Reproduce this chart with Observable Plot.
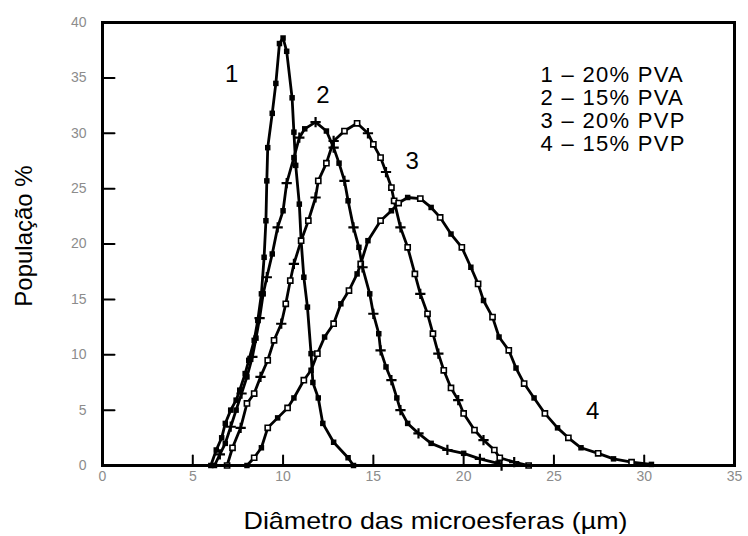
<!DOCTYPE html>
<html>
<head>
<meta charset="utf-8">
<script src="https://cdn.jsdelivr.net/npm/d3@7"></script>
<script src="https://cdn.jsdelivr.net/npm/@observablehq/plot@0.6"></script>
<style>
  body { margin: 0; background: #fff; }
  #chart svg { display: block; }
</style>
</head>
<body>
<div id="chart"></div>
<script>
// Size distributions of microspheres for four stabiliser formulations
const seriesNames = ["1", "2", "3", "4"];
const legendLabels = ["1 – 20% PVA", "2 – 15% PVA", "3 – 20% PVP", "4 – 15% PVP"];
const xTicks = [0, 5, 10, 15, 20, 25, 30, 35];
const yTicks = [0, 5, 10, 15, 20, 25, 30, 35, 40];
const xTitle = "Diâmetro das microesferas (µm)";
const yTitle = "População %";

// 1 – 20% PVA
const x1 = [6.0, 6.3, 6.6, 6.8, 7.1, 7.4, 7.6, 7.9, 8.1, 8.4, 8.6, 8.8, 8.95, 9.05, 9.1, 9.15, 9.4, 9.6, 9.8, 10.0, 10.2, 10.5, 10.6, 10.7, 10.9, 11.0, 11.15, 11.35, 11.55, 11.65, 11.95, 12.2, 12.8, 13.6, 13.9];
const y1 = [0, 1.4, 2.5, 3.8, 5.0, 5.9, 6.8, 8.3, 9.5, 11.3, 13.1, 15.5, 18.8, 22.1, 25.7, 28.7, 31.8, 34.5, 38.1, 38.6, 37.4, 33.2, 30.1, 27.1, 23.6, 20.3, 17.0, 14.3, 10.1, 7.5, 6.1, 3.8, 2.1, 0.7, 0];

// 2 – 15% PVA
const x2 = [6.2, 6.5, 6.8, 7.1, 7.4, 7.7, 8.0, 8.3, 8.5, 8.7, 8.9, 9.1, 9.4, 9.7, 10.0, 10.2, 10.6, 10.9, 11.2, 11.8, 12.4, 12.8, 13.1, 13.4, 13.6, 13.9, 14.2, 14.4, 14.8, 15.0, 15.3, 15.4, 15.7, 16.0, 16.3, 16.5, 16.9, 17.5, 18.2, 19.1, 20.0, 20.9, 21.9, 22.1];
const y2 = [0, 1.0, 2.0, 3.5, 5.0, 6.5, 8.0, 9.8, 11.5, 13.3, 15.5, 17.0, 19.1, 21.5, 23.0, 25.5, 27.8, 29.6, 30.4, 31.0, 30.2, 28.7, 27.3, 25.7, 23.9, 21.5, 19.7, 17.9, 15.5, 13.7, 11.9, 10.4, 8.9, 7.7, 6.1, 5.0, 3.8, 2.9, 2.0, 1.4, 1.1, 0.6, 0.2, 0];

// 3 – 20% PVP
const x3 = [6.9, 7.2, 7.65, 8.0, 8.4, 8.75, 9.15, 9.5, 9.9, 10.15, 10.4, 10.6, 11.0, 11.4, 11.8, 11.95, 12.4, 12.8, 13.4, 14.1, 14.7, 15.0, 15.4, 15.7, 16.0, 16.15, 16.5, 16.9, 17.3, 17.6, 18.0, 18.3, 18.6, 18.9, 19.3, 19.7, 20.0, 20.6, 21.1, 21.7, 22.0, 22.8, 23.6];
const y3 = [0, 1.6, 3.4, 5.6, 6.5, 8.0, 9.5, 11.3, 12.8, 14.6, 16.7, 18.2, 20.3, 22.1, 24.2, 25.7, 27.3, 29.3, 30.2, 30.9, 30.0, 29.0, 27.8, 26.5, 25.1, 23.9, 21.5, 19.7, 17.3, 15.5, 13.7, 11.9, 10.1, 8.6, 7.0, 5.9, 4.7, 3.2, 2.3, 1.4, 0.7, 0.3, 0];

// 4 – 15% PVP
const x4 = [8.0, 8.4, 8.8, 9.15, 9.7, 10.25, 10.6, 11.15, 11.55, 11.9, 12.3, 12.8, 13.2, 13.65, 14.1, 14.3, 14.7, 15.4, 16.0, 16.4, 16.9, 17.6, 18.2, 18.7, 19.3, 19.9, 20.4, 20.8, 21.1, 21.6, 21.96, 22.5, 22.9, 23.35, 23.9, 24.5, 25.2, 25.8, 26.5, 27.45, 28.3, 29.3, 30.4];
const y4 = [0, 0.7, 1.6, 3.4, 4.3, 5.2, 6.1, 7.7, 8.6, 10.1, 11.6, 12.8, 14.6, 15.8, 17.3, 18.2, 20.3, 22.1, 23.0, 23.7, 24.2, 24.1, 23.3, 22.4, 20.9, 19.7, 17.9, 16.4, 14.9, 13.4, 11.6, 10.4, 8.8, 7.4, 6.1, 4.7, 3.4, 2.5, 1.6, 1.1, 0.6, 0.3, 0.1];

const xs = [x1, x2, x3, x4];
const ys = [y1, y2, y3, y4];

// long table: one row per measured point
const rows = seriesNames.flatMap((s, k) => xs[k].map((x, i) => ({series: s, x, y: ys[k][i], i})));

// marker style per curve: solid squares, squares + crosses, open squares, alternating squares
function markerKind(d) {
  if (d.series === "1") return "solid";
  if (d.series === "2") return d.i % 2 ? "plus" : "solid";
  if (d.series === "3") return d.i % 3 === 2 ? "plus" : "open";
  return d.i % 2 ? "open" : "solid";
}

// curve number labels placed next to their curves
const curveLabelX = [7.16, 12.2, 17.15, 27.15];
const curveLabelY = [35.35, 33.4, 27.5, 4.9];
const curveLabels = seriesNames.map((s, k) => ({s, x: curveLabelX[k], y: curveLabelY[k]}));

const font = "'Liberation Sans', Arial, Helvetica, sans-serif";
const tickGrey = "#8c8c8c";

// a plain straight tick (no arrow head) for the inward-pointing axis ticks
const tickShape = {draw(context, l) { context.moveTo(0, 0); context.lineTo(0, -l); }};

const chart = Plot.plot({
  width: 748,
  height: 536,
  marginLeft: 102,
  marginRight: 14,
  marginTop: 22,
  marginBottom: 71,
  style: {fontFamily: font, background: "#fff", color: "black"},
  x: {domain: [0, 35]},
  y: {domain: [0, 40]},
  marks: [
    // tick labels only; the tick marks point inward and are drawn as vectors below
    Plot.axisX(xTicks, {tickSize: 0, tickPadding: 6, fontSize: 14, fill: tickGrey, label: null, tickFormat: d => String(d)}),
    Plot.axisY(yTicks, {tickSize: 0, tickPadding: 16, fontSize: 14, fill: tickGrey, label: null, tickFormat: d => String(d)}),
    Plot.vector(xTicks, {x: d => d, frameAnchor: "bottom", length: 10, rotate: 0, anchor: "start", shape: tickShape, stroke: "black", strokeWidth: 2}),
    Plot.vector(yTicks, {y: d => d, frameAnchor: "left", length: 12, rotate: 90, anchor: "start", shape: tickShape, stroke: "black", strokeWidth: 2}),
    Plot.line(rows, {x: "x", y: "y", z: "series", stroke: "black", strokeWidth: 2.8, strokeLinejoin: "round"}),
    Plot.dot(rows.filter(d => markerKind(d) === "solid"), {x: "x", y: "y", symbol: "square", r: 3.1, fill: "black"}),
    Plot.dot(rows.filter(d => markerKind(d) === "open"), {x: "x", y: "y", symbol: "square", r: 2.9, fill: "white", stroke: "black", strokeWidth: 1.6}),
    Plot.dot(rows.filter(d => markerKind(d) === "plus"), {x: "x", y: "y", symbol: "plus", r: 3.4, stroke: "black", strokeWidth: 2.2}),
    Plot.frame({stroke: "black", strokeWidth: 3}),
    Plot.text(curveLabels, {x: "x", y: "y", text: "s", fontSize: 24, fill: "black", lineAnchor: "middle"}),
    Plot.text([legendLabels.join("\n")], {frameAnchor: "top-left", dx: 438, dy: 43, textAnchor: "start", lineAnchor: "top", lineHeight: 1.05, fontSize: 22, fill: "black", ariaDescription: "key"}),
    Plot.text([xTitle], {frameAnchor: "bottom", dx: 17, dy: 63, lineAnchor: "bottom", fontSize: 24, fill: "black", ariaDescription: "x-title"}),
    Plot.text([yTitle], {frameAnchor: "left", dx: -78, dy: -8, rotate: -90, textAnchor: "middle", lineAnchor: "middle", fontSize: 24, fill: "black"})
  ]
});

// the axis title and key are set a little wider than the face's natural width
d3.select(chart).selectAll('g[aria-description="x-title"] text')
  .attr("textLength", 384)
  .attr("lengthAdjust", "spacingAndGlyphs");
d3.select(chart).selectAll('g[aria-description="key"] text')
  .style("letter-spacing", "1.3px");

document.getElementById("chart").append(chart);
</script>
</body>
</html>
